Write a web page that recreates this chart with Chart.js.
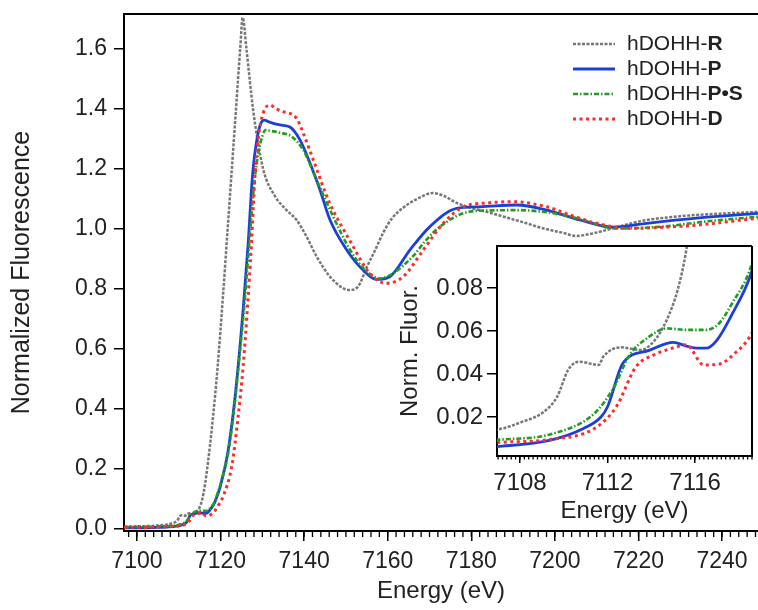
<!DOCTYPE html>
<html>
<head>
<meta charset="utf-8">
<script src="https://cdn.jsdelivr.net/npm/chart.js@4.4.0/dist/chart.umd.min.js"></script>
<style>
  body { margin: 0; background: #fff; }
  #wrap { position: relative; width: 758px; height: 610px; }
  #mainChart { position: absolute; left: 0; top: 0; }
  #insetChart { position: absolute; left: 380px; top: 236px; }
</style>
</head>
<body>
<div id="wrap">
  <canvas id="mainChart" width="758" height="610"></canvas>
  <canvas id="insetChart" width="378" height="300"></canvas>
</div>
<script>
// values
const rEnergy = [7097, 7100, 7103, 7105, 7107.2, 7108, 7109.1, 7109.7, 7110.2, 7110.7, 7111.6, 7111.8, 7112.6, 7113.5, 7114.1, 7114.7, 7115.2, 7115.6, 7116.3, 7117.8, 7119.3, 7120.6, 7121.7, 7122.7, 7123.7, 7124.7, 7125.3, 7126.2, 7127.8, 7130.2, 7133, 7135.8, 7138.2, 7140.6, 7143, 7146.2, 7149.4, 7151, 7153, 7155, 7157, 7158.9, 7161, 7163.6, 7167, 7170.8, 7173.5, 7176.5, 7180, 7183.7, 7188, 7192.3, 7197, 7202, 7205, 7209, 7214, 7218, 7222, 7228, 7234, 7241, 7248.6];
const rValues = [0.008, 0.009, 0.010, 0.012, 0.0147, 0.0174, 0.0225, 0.0295, 0.0419, 0.0457, 0.0442, 0.048, 0.0524, 0.0512, 0.055, 0.065, 0.079, 0.0977, 0.15, 0.32, 0.54, 0.78, 1.0, 1.2, 1.4, 1.6, 1.705, 1.6, 1.397, 1.2, 1.11, 1.063, 1.03, 0.974, 0.908, 0.841, 0.802, 0.797, 0.81, 0.873, 0.93, 0.987, 1.035, 1.07, 1.10, 1.12, 1.11, 1.087, 1.07, 1.057, 1.04, 1.023, 1.003, 0.987, 0.977, 0.985, 1.003, 1.018, 1.03, 1.04, 1.047, 1.052, 1.057];

const pEnergy = [7097, 7100, 7104, 7107.2, 7109.4, 7110.9, 7111.7, 7112.0, 7112.7, 7113.9, 7115.0, 7115.6, 7116.1, 7116.5, 7117.0, 7117.7, 7118.5, 7119.2, 7119.9, 7121.8, 7123.4, 7124.6, 7125.4, 7126.6, 7127.6, 7128.6, 7129.8, 7130.6, 7131.4, 7134.2, 7136.6, 7139.0, 7141.4, 7143.8, 7146.2, 7150.2, 7154.1, 7157.3, 7160.5, 7165.3, 7170.1, 7176.5, 7182, 7190.8, 7198, 7206, 7214, 7222, 7233.9, 7248.6];
const pValues = [0.004, 0.004, 0.005, 0.0065, 0.0093, 0.0147, 0.020, 0.0248, 0.045, 0.051, 0.0547, 0.053, 0.052, 0.052, 0.0558, 0.068, 0.085, 0.11, 0.14, 0.26, 0.43, 0.60, 0.73, 0.95, 1.17, 1.29, 1.357, 1.363, 1.358, 1.347, 1.34, 1.297, 1.22, 1.13, 1.03, 0.93, 0.863, 0.832, 0.841, 0.93, 1.008, 1.069, 1.074, 1.08, 1.063, 1.03, 1.006, 1.019, 1.036, 1.052];

const psEnergy = [7097, 7100, 7104, 7107.2, 7109.4, 7111.4, 7112.3, 7113.0, 7113.8, 7114.7, 7115.6, 7116.5, 7117.1, 7117.7, 7118.5, 7119.2, 7119.9, 7121.9, 7123.5, 7124.7, 7125.6, 7126.8, 7127.9, 7129.0, 7130.0, 7130.8, 7132.0, 7134.2, 7137.0, 7139.8, 7143.0, 7147.0, 7151.0, 7154.5, 7158.1, 7161.0, 7166.1, 7169.0, 7172.5, 7179.7, 7185, 7190.8, 7202, 7208, 7214, 7225.9, 7236, 7248.6];
const psValues = [0.006, 0.007, 0.008, 0.0096, 0.012, 0.0217, 0.034, 0.0488, 0.0566, 0.0612, 0.0605, 0.0605, 0.0636, 0.073, 0.0884, 0.115, 0.145, 0.26, 0.43, 0.60, 0.73, 0.94, 1.13, 1.25, 1.31, 1.33, 1.327, 1.321, 1.308, 1.263, 1.163, 1.04, 0.93, 0.865, 0.835, 0.85, 0.91, 0.96, 1.008, 1.058, 1.062, 1.063, 1.047, 1.025, 1.002, 1.008, 1.025, 1.041];

const dEnergy = [7097, 7100, 7104, 7107.2, 7109.4, 7111.4, 7112.4, 7113.3, 7114.1, 7115.2, 7115.6, 7116.4, 7117.1, 7117.9, 7118.5, 7119.3, 7120.6, 7122.7, 7124.2, 7125.4, 7126.4, 7127.4, 7128.2, 7129.0, 7130.2, 7131.8, 7133.4, 7135.0, 7138.2, 7139.8, 7142.2, 7146.0, 7151.0, 7155.7, 7159.7, 7163.7, 7168.5, 7173.3, 7178.1, 7184, 7190, 7198, 7204, 7210, 7218, 7226, 7233.9, 7248.6];
const dValues = [0.005, 0.005, 0.006, 0.0083, 0.0096, 0.0147, 0.0248, 0.0434, 0.0488, 0.0527, 0.0536, 0.0442, 0.0446, 0.0504, 0.0573, 0.075, 0.108, 0.21, 0.374, 0.54, 0.73, 0.95, 1.17, 1.30, 1.386, 1.413, 1.40, 1.391, 1.369, 1.319, 1.23, 1.09, 0.96, 0.852, 0.819, 0.841, 0.93, 1.019, 1.074, 1.087, 1.091, 1.074, 1.045, 1.019, 1.002, 1.006, 1.013, 1.036];

const labelPrefix = 'hDOHH-';
const seriesNames = ['R', 'P', 'P•S', 'D'];

const mainXTicks = [7100, 7120, 7140, 7160, 7180, 7200, 7220, 7240];
const mainYTicks = [0.0, 0.2, 0.4, 0.6, 0.8, 1.0, 1.2, 1.4, 1.6];
const insetXTicks = [7108, 7112, 7116];
const insetYTicks = [0.02, 0.04, 0.06, 0.08];

const FONT = 'Liberation Sans, Arial, sans-serif';
const TEXT = '#222';

function toPoints(xs, ys) {
    return xs.map((x, i) => ({ x: x, y: ys[i] }));
}

function makeDatasets() {
    const all = [
        { e: rEnergy, v: rValues, color: '#777777', dash: [3, 1.5], width: 2.5, order: 3 },
        { e: pEnergy, v: pValues, color: '#1c3fd9', dash: [], width: 2.8, order: 2 },
        { e: psEnergy, v: psValues, color: '#1e9e1e', dash: [5, 2, 1.5, 2], width: 2.6, order: 1 },
        { e: dEnergy, v: dValues, color: '#ff2b2b', dash: [3, 3.5], width: 3, order: 0 }
    ];
    return all.map((s, i) => ({
        label: labelPrefix + seriesNames[i],
        data: toPoints(s.e, s.v),
        borderColor: s.color,
        borderDash: s.dash,
        borderWidth: s.width,
        order: s.order,
        pointRadius: 0,
        fill: false,
        cubicInterpolationMode: 'monotone'
    }));
}

// small ticks between the labelled ones
const minorTicks = {
    id: 'minorTicks',
    afterDraw(chart, args, opts) {
        const xs = chart.scales.x;
        const a = chart.chartArea;
        const ctx = chart.ctx;
        ctx.save();
        ctx.strokeStyle = '#000';
        ctx.lineWidth = 1.3;
        ctx.beginPath();
        const i0 = Math.ceil(xs.min / opts.step - 1e-6);
        const i1 = Math.floor(xs.max / opts.step + 1e-6);
        for (let i = i0; i <= i1; i++) {
            const px = xs.getPixelForValue(i * opts.step);
            ctx.moveTo(px, a.bottom);
            ctx.lineTo(px, a.bottom + opts.len);
        }
        ctx.stroke();
        ctx.restore();
    }
};

const frame = {
    id: 'frame',
    beforeDraw(chart, args, opts) {
        if (!opts.fill) return;
        const a = chart.chartArea;
        chart.ctx.save();
        chart.ctx.fillStyle = '#fff';
        chart.ctx.fillRect(a.left, a.top, a.right - a.left, a.bottom - a.top);
        chart.ctx.restore();
    },
    afterDraw(chart, args, opts) {
        const a = chart.chartArea;
        const ctx = chart.ctx;
        ctx.save();
        ctx.strokeStyle = '#000';
        ctx.lineWidth = 2;
        ctx.beginPath();
        ctx.moveTo(a.left - 1, a.top);
        ctx.lineTo(a.right, a.top);
        if (opts.right) {
            ctx.moveTo(a.right, a.top);
            ctx.lineTo(a.right, a.bottom + 1);
        }
        ctx.stroke();
        ctx.restore();
    }
};

const seriesKey = {
    id: 'seriesKey',
    afterDraw(chart, args, opts) {
        if (!opts.show) return;
        const ctx = chart.ctx;
        chart.data.datasets.forEach((ds, i) => {
            const y = opts.top + i * opts.gap;
            ctx.save();
            ctx.strokeStyle = ds.borderColor;
            ctx.lineWidth = ds.borderWidth;
            ctx.setLineDash(ds.borderDash);
            ctx.beginPath();
            ctx.moveTo(opts.x1, y);
            ctx.lineTo(opts.x2, y);
            ctx.stroke();
            ctx.setLineDash([]);
            ctx.fillStyle = TEXT;
            ctx.textBaseline = 'middle';
            ctx.font = opts.size + 'px ' + FONT;
            ctx.fillText(labelPrefix, opts.tx, y);
            const w = ctx.measureText(labelPrefix).width;
            ctx.font = 'bold ' + opts.size + 'px ' + FONT;
            ctx.fillText(seriesNames[i], opts.tx + w, y);
            ctx.restore();
        });
    }
};

function setTicks(list) {
    return scale => { scale.ticks = list.map(v => ({ value: v })); };
}

// fixed axis sizes, no extra room for overhanging labels
function fixX(h) {
    return s => { s.height = h; s.paddingLeft = 0; s.paddingRight = 0; };
}
function fixY(w) {
    return s => { s.width = w; s.paddingTop = 0; s.paddingBottom = 0; };
}

// main spectrum
new Chart(document.getElementById('mainChart'), {
    type: 'line',
    data: { datasets: makeDatasets() },
    options: {
        responsive: false,
        animation: false,
        devicePixelRatio: 1,
        layout: { padding: { top: 14, right: 0, left: 0, bottom: 0 } },
        plugins: {
            legend: { display: false },
            tooltip: { enabled: false },
            minorTicks: { step: 2, len: 6 },
            frame: { right: false, fill: false },
            seriesKey: { show: true, top: 44, gap: 25, x1: 573, x2: 615, tx: 627, size: 21 }
        },
        scales: {
            x: {
                type: 'linear',
                min: 7096.9,
                max: 7248.6,
                afterBuildTicks: setTicks(mainXTicks),
                afterFit: fixX(79),
                ticks: { font: { family: FONT, size: 23 }, color: TEXT, padding: 7, maxRotation: 0, autoSkip: false, callback: v => String(v) },
                grid: { drawOnChartArea: false, drawTicks: true, tickLength: 10, color: '#000', lineWidth: 1.5 },
                border: { display: true, color: '#000', width: 2 },
                title: { display: true, text: 'Energy (eV)', font: { family: FONT, size: 24 }, color: TEXT, padding: { top: 0, bottom: 4 } }
            },
            y: {
                type: 'linear',
                min: -0.0067,
                max: 1.7167,
                afterBuildTicks: setTicks(mainYTicks),
                afterFit: fixY(124),
                ticks: { font: { family: FONT, size: 23 }, color: TEXT, padding: 7, callback: v => Number(v).toFixed(1) },
                grid: { drawOnChartArea: false, drawTicks: true, tickLength: 10, color: '#000', lineWidth: 1.5 },
                border: { display: true, color: '#000', width: 2 },
                title: { display: true, text: 'Normalized Fluorescence', font: { family: FONT, size: 25 }, color: TEXT, padding: { top: 7, bottom: 0 } }
            }
        }
    },
    plugins: [minorTicks, frame, seriesKey]
});

// pre-edge inset
new Chart(document.getElementById('insetChart'), {
    type: 'line',
    data: { datasets: makeDatasets() },
    options: {
        responsive: false,
        animation: false,
        devicePixelRatio: 1,
        layout: { padding: { top: 10, right: 6, left: 0, bottom: 0 } },
        plugins: {
            legend: { display: false },
            tooltip: { enabled: false },
            minorTicks: { step: 0.2, len: 3.5 },
            frame: { right: true, fill: true },
            seriesKey: { show: false }
        },
        scales: {
            x: {
                type: 'linear',
                min: 7106.95,
                max: 7118.6,
                afterBuildTicks: setTicks(insetXTicks),
                afterFit: fixX(80),
                ticks: { font: { family: FONT, size: 24 }, color: TEXT, padding: 6, maxRotation: 0, autoSkip: false, callback: v => String(v) },
                grid: { drawOnChartArea: false, drawTicks: true, tickLength: 7, color: '#000', lineWidth: 1.5 },
                border: { display: true, color: '#000', width: 2 },
                title: { display: true, text: 'Energy (eV)', font: { family: FONT, size: 24 }, color: TEXT, padding: { top: 0, bottom: 10 } }
            },
            y: {
                type: 'linear',
                min: 0.0019,
                max: 0.0995,
                afterBuildTicks: setTicks(insetYTicks),
                afterFit: fixY(117),
                ticks: { font: { family: FONT, size: 24 }, color: TEXT, padding: 4, callback: v => Number(v).toFixed(2) },
                grid: { drawOnChartArea: false, drawTicks: true, tickLength: 10, color: '#000', lineWidth: 1.5 },
                border: { display: true, color: '#000', width: 2 },
                title: { display: true, text: 'Norm. Fluor.', font: { family: FONT, size: 24 }, color: TEXT, padding: { top: 16, bottom: 0 } }
            }
        }
    },
    plugins: [minorTicks, frame, seriesKey]
});
</script>
</body>
</html>
